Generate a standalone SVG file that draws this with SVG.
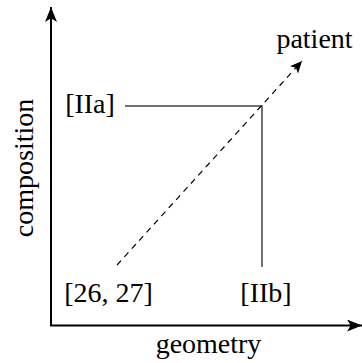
<svg xmlns="http://www.w3.org/2000/svg" width="362" height="363" viewBox="0 0 362 363">
<style>
text{font-family:'Liberation Serif','Times New Roman',serif;font-size:28px;fill:#000;text-anchor:middle}
.axis{stroke:#000;stroke-width:2;fill:none}
.box{stroke:#444;stroke-width:1.5;fill:none}
.dash{stroke:#000;stroke-width:1.2;stroke-dasharray:6 5;fill:none}
</style>
<defs>
<marker id="ah" viewBox="0 0 10 10" refX="10" refY="5" markerWidth="12" markerHeight="11" markerUnits="userSpaceOnUse" orient="auto" preserveAspectRatio="none">
<path d="M0,0 L10,5 L0,10 L2.5,5 z" fill="#000"/>
</marker>
<marker id="axh" viewBox="0 0 10 10" refX="10" refY="5" markerWidth="15" markerHeight="12" markerUnits="userSpaceOnUse" orient="auto" preserveAspectRatio="none">
<path d="M0,0 L10,5 L0,10 L2.5,5 z" fill="#000"/>
</marker>
</defs>
<g id="connectors">
<line class="axis" x1="51" y1="326" x2="51" y2="7" marker-end="url(#axh)"/>
<line class="axis" x1="50" y1="325.5" x2="362" y2="325.5" marker-end="url(#axh)"/>
<polyline class="box" points="125,106 262,106 262,267"/>
<line class="dash" x1="117" y1="265" x2="302" y2="61" marker-end="url(#ah)"/>
</g>
<g id="patient"><text x="314.5" y="48">patient</text></g>
<g id="IIa"><text x="90" y="113">[IIa]</text></g>
<g id="ref2627"><text x="108.5" y="302">[26, 27]</text></g>
<g id="IIb"><text x="266" y="302">[IIb]</text></g>
<g id="geometry"><text x="208.5" y="353">geometry</text></g>
<g id="composition"><text transform="translate(33,168) rotate(-90)">composition</text></g>
</svg>
